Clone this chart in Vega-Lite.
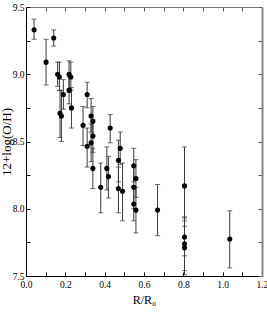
{
  "$schema": "https://vega.github.io/schema/vega-lite/v6.json",
  "width": 236,
  "height": 269,
  "autosize": {"type": "none"},
  "padding": {"left": 26, "top": 7, "right": 5, "bottom": 40},
  "background": "white",
  "config": {
    "view": {"stroke": null},
    "axis": {
      "labelFont": "Liberation Serif",
      "titleFont": "Liberation Serif",
      "labelColor": "black",
      "titleColor": "black",
      "labelFontSize": 9.5,
      "titleFontSize": 12,
      "titleFontWeight": "normal",
      "domainColor": "black",
      "tickColor": "black",
      "grid": false
    }
  },
  "data": {
    "values": [
      {"r": 0.041, "oh": 9.33, "lo": 9.26, "hi": 9.41},
      {"r": 0.102, "oh": 9.09, "lo": 8.92, "hi": 9.26},
      {"r": 0.141, "oh": 9.27, "lo": 9.21, "hi": 9.33},
      {"r": 0.161, "oh": 9.0, "lo": 8.91, "hi": 9.09},
      {"r": 0.17, "oh": 8.98, "lo": 8.88, "hi": 9.09},
      {"r": 0.173, "oh": 8.71, "lo": 8.53, "hi": 8.88},
      {"r": 0.18, "oh": 8.69, "lo": 8.5, "hi": 8.88},
      {"r": 0.19, "oh": 8.85, "lo": 8.74, "hi": 8.96},
      {"r": 0.219, "oh": 9.0, "lo": 8.89, "hi": 9.1},
      {"r": 0.219, "oh": 8.88, "lo": 8.78, "hi": 8.98},
      {"r": 0.228, "oh": 8.98, "lo": 8.88, "hi": 9.09},
      {"r": 0.231, "oh": 8.75, "lo": 8.6, "hi": 8.9},
      {"r": 0.29, "oh": 8.62, "lo": 8.47, "hi": 8.76},
      {"r": 0.311, "oh": 8.85, "lo": 8.75, "hi": 8.94},
      {"r": 0.311, "oh": 8.465, "lo": 8.31, "hi": 8.6},
      {"r": 0.331, "oh": 8.69, "lo": 8.57, "hi": 8.82},
      {"r": 0.331, "oh": 8.49, "lo": 8.35, "hi": 8.63},
      {"r": 0.34, "oh": 8.65, "lo": 8.54, "hi": 8.76},
      {"r": 0.34, "oh": 8.54, "lo": 8.42, "hi": 8.66},
      {"r": 0.34, "oh": 8.3, "lo": 8.15, "hi": 8.45},
      {"r": 0.38, "oh": 8.16, "lo": 7.97, "hi": 8.34},
      {"r": 0.411, "oh": 8.3, "lo": 8.14, "hi": 8.46},
      {"r": 0.419, "oh": 8.24, "lo": 8.08, "hi": 8.39},
      {"r": 0.428, "oh": 8.6, "lo": 8.49, "hi": 8.7},
      {"r": 0.47, "oh": 8.36, "lo": 8.2, "hi": 8.51},
      {"r": 0.47, "oh": 8.15, "lo": 7.97, "hi": 8.31},
      {"r": 0.479, "oh": 8.45, "lo": 8.33, "hi": 8.57},
      {"r": 0.491, "oh": 8.13, "lo": 7.91, "hi": 8.34},
      {"r": 0.548, "oh": 8.32, "lo": 8.2, "hi": 8.45},
      {"r": 0.548, "oh": 8.16, "lo": 8.0, "hi": 8.32},
      {"r": 0.548, "oh": 8.035, "lo": 7.91, "hi": 8.17},
      {"r": 0.559, "oh": 8.225, "lo": 8.085, "hi": 8.365},
      {"r": 0.559, "oh": 7.99, "lo": 7.82, "hi": 8.16},
      {"r": 0.669, "oh": 7.99, "lo": 7.8, "hi": 8.18},
      {"r": 0.806, "oh": 8.17, "lo": 7.87, "hi": 8.46},
      {"r": 0.806, "oh": 7.79, "lo": 7.65, "hi": 7.93},
      {"r": 0.806, "oh": 7.74, "lo": 7.54, "hi": 7.94},
      {"r": 0.806, "oh": 7.71, "lo": 7.51, "hi": 7.91},
      {"r": 1.036, "oh": 7.775, "lo": 7.56, "hi": 7.985}
    ]
  },
  "resolve": {"axis": {"x": "independent", "y": "independent"}},
  "layer": [
    {
      "mark": {"type": "rule", "color": "#3a3a3a", "strokeWidth": 1},
      "encoding": {
        "x": {
          "field": "r", "type": "quantitative",
          "scale": {"domain": [0, 1.2], "nice": false, "zero": false},
          "axis": {
            "orient": "bottom",
            "title": "R/R₀",
            "values": [0, 0.1, 0.2, 0.3, 0.4, 0.5, 0.6, 0.7, 0.8, 0.9, 1.0, 1.1, 1.2],
            "labelExpr": "round(datum.value*10) % 2 == 0 ? format(datum.value, '.1f') : ''",
            "tickSize": -4,
            "labelPadding": 7,
            "titlePadding": 6,
            "labelFlush": false
          }
        },
        "y": {
          "field": "lo", "type": "quantitative",
          "scale": {"domain": [7.5, 9.5], "nice": false, "zero": false},
          "axis": {
            "orient": "left",
            "title": "12+log(O/H)",
            "titleFontSize": 13,
            "values": [7.5, 7.75, 8.0, 8.25, 8.5, 8.75, 9.0, 9.25, 9.5],
            "labelExpr": "round(datum.value*4) % 2 == 0 ? format(datum.value, '.1f') : ''",
            "tickSize": -4,
            "labelPadding": 6,
            "titlePadding": -1,
            "labelFlush": false
          }
        },
        "y2": {"field": "hi"}
      }
    },
    {
      "mark": {"type": "tick", "color": "#333", "orient": "horizontal", "thickness": 1, "size": 5},
      "encoding": {
        "x": {"field": "r", "type": "quantitative", "axis": null},
        "y": {"field": "lo", "type": "quantitative", "axis": null}
      }
    },
    {
      "mark": {"type": "tick", "color": "#333", "orient": "horizontal", "thickness": 1, "size": 5},
      "encoding": {
        "x": {"field": "r", "type": "quantitative", "axis": null},
        "y": {"field": "hi", "type": "quantitative", "axis": null}
      }
    },
    {
      "mark": {"type": "circle", "color": "black", "opacity": 1, "size": 26},
      "encoding": {
        "x": {
          "field": "r", "type": "quantitative",
          "axis": {
            "orient": "top", "title": null, "labels": false,
            "values": [0, 0.1, 0.2, 0.3, 0.4, 0.5, 0.6, 0.7, 0.8, 0.9, 1.0, 1.1, 1.2],
            "tickSize": -4, "domainColor": "#777", "tickColor": "#555"
          }
        },
        "y": {
          "field": "oh", "type": "quantitative",
          "axis": {
            "orient": "right", "title": null, "labels": false,
            "values": [7.5, 7.75, 8.0, 8.25, 8.5, 8.75, 9.0, 9.25, 9.5],
            "tickSize": -4, "domainColor": "#888", "domainWidth": 2, "tickColor": "#555"
          }
        }
      }
    }
  ]
}
